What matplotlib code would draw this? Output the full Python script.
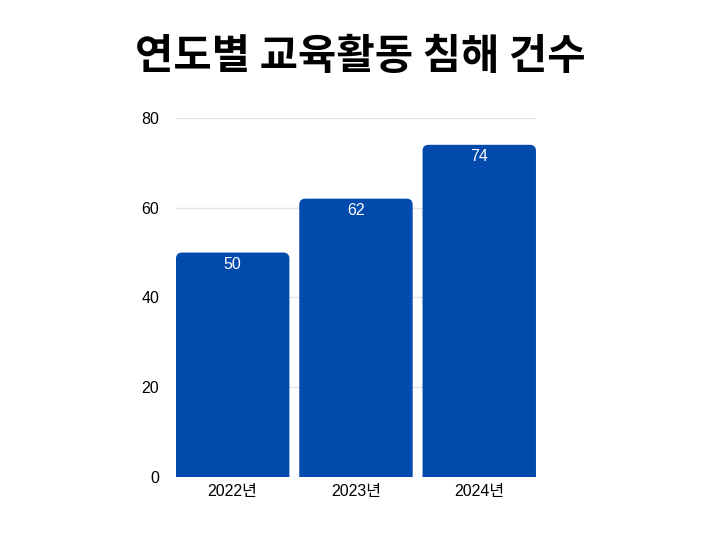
import matplotlib

matplotlib.use("Agg")
import matplotlib.pyplot as plt
from matplotlib.patches import FancyBboxPatch

years = ["2022년", "2023년", "2024년"]
counts = [50, 62, 74]
yticks = [0, 20, 40, 60, 80]
title = "연도별 교육활동 침해 건수"

BAR_COLOR = "#034aad"
WIDTH = 0.92

plt.rcParams["font.family"] = ["Liberation Sans", "Noto Sans CJK KR", "DejaVu Sans"]

fig = plt.figure(figsize=(7.2, 5.4), dpi=100)
ax = fig.add_axes([0.2444, 0.1167, 0.5, 0.665])
ax.set_xlim(-WIDTH / 2, len(years) - 1 + WIDTH / 2)
ax.set_ylim(0, 80)

# rounded top corners: bottom pushed below 0 so it gets clipped
for i, v in enumerate(counts):
    p = FancyBboxPatch((i - WIDTH / 2, -5), WIDTH, v + 5,
                       boxstyle="round,pad=0,rounding_size=0.05",
                       mutation_aspect=27, fc=BAR_COLOR, ec="none",
                       zorder=2, clip_on=True)
    ax.add_patch(p)
    ax.text(i, v - 2.7, str(v), ha="center", va="center", color="white",
            fontsize=11.5, fontweight="medium", zorder=3)

ax.set_yticks(yticks)
ax.set_yticklabels([str(t) for t in yticks], fontsize=11.5)
ax.set_xticks(range(len(years)))
ax.set_xticklabels(years, fontsize=11.5)
ax.tick_params(length=0)
ax.tick_params(axis="y", pad=12)
ax.tick_params(axis="x", pad=5)
ax.grid(axis="y", color="#e4e4e4", lw=1, zorder=0)
ax.set_axisbelow(True)
for s in ax.spines.values():
    s.set_visible(False)

fig.text(0.5, 0.895, title, ha="center", va="center", fontsize=30,
         fontweight="black", family=["Noto Sans CJK KR"])

fig.savefig("out.png", dpi=100)
